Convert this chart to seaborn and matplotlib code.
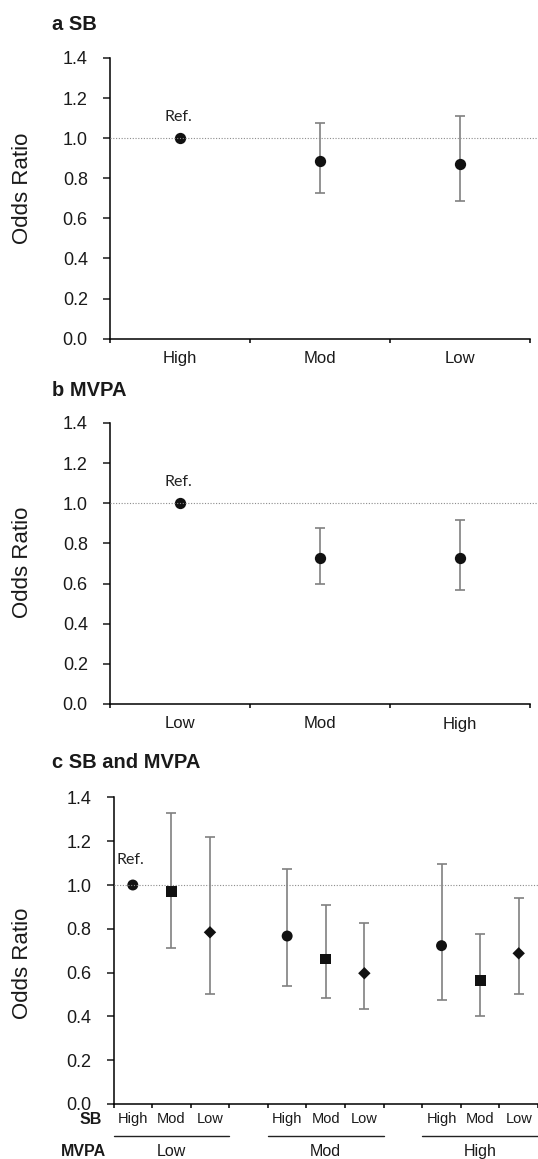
import numpy as np
import pandas as pd
import matplotlib
matplotlib.use('Agg')
import matplotlib.pyplot as plt
import matplotlib.transforms as mtransforms
import seaborn as sns

# a: sedentary behaviour tertiles
sb_levels = ['High', 'Mod', 'Low']
sb_or = [1.00, 0.888, 0.873]
sb_lo = [np.nan, 0.726, 0.687]
sb_hi = [np.nan, 1.078, 1.113]

# b: MVPA tertiles
mvpa_levels = ['Low', 'Mod', 'High']
mvpa_or = [1.00, 0.725, 0.726]
mvpa_lo = [np.nan, 0.598, 0.568]
mvpa_hi = [np.nan, 0.875, 0.917]

# c: joint SB x MVPA categories
joint_mvpa_levels = ['Low', 'Mod', 'High']
joint_mvpa = ['Low'] * 3 + ['Mod'] * 3 + ['High'] * 3
joint_sb = ['High', 'Mod', 'Low'] * 3
joint_or = [1.00, 0.970, 0.784, 0.767, 0.662, 0.597, 0.723, 0.562, 0.688]
joint_lo = [np.nan, 0.714, 0.504, 0.540, 0.482, 0.432, 0.475, 0.403, 0.504]
joint_hi = [np.nan, 1.327, 1.219, 1.075, 0.909, 0.828, 1.096, 0.778, 0.939]

sns.set_style('ticks')
plt.rcParams['font.family'] = ['Liberation Sans', 'DejaVu Sans']

W, H = 538, 1159
MARK = '#111111'
ERR = '#808080'
TXT = '#1a1a1a'

fig = plt.figure(figsize=(W / 100, H / 100), dpi=100)


def px_axes(left, right, top, bottom):
    return fig.add_axes([left / W, 1 - bottom / H, (right - left) / W, (bottom - top) / H])


def base_style(ax, left, right, label_y):
    ax.set_ylim(0, 1.4)
    yt = np.arange(0, 1.41, 0.2)
    ax.set_yticks(yt)
    ax.set_yticklabels([f'{v:.1f}' for v in yt])
    sns.despine(ax=ax)
    for s in ['left', 'bottom']:
        ax.spines[s].set_linewidth(1.1)
        ax.spines[s].set_color('black')
    ax.tick_params(axis='y', length=5, width=1.1, pad=11, labelsize=13,
                   colors=TXT, direction='out')
    ax.tick_params(axis='x', which='minor', length=3, width=1.1, direction='out',
                   color='black')
    ax.set_xlabel('')
    ax.set_ylabel('Odds Ratio', fontsize=16, color=TXT)
    # anchor is the right edge of the rotated label
    ax.yaxis.set_label_coords((33 - left) / (right - left), label_y)
    # dotted reference line, runs to the figure edge
    ax.axhline(1.0, xmin=0, xmax=(W - left) / (right - left), color='#8c8c8c',
               lw=0.8, ls=(0, (1, 1.5)), clip_on=False, zorder=4)


def draw_points(ax, pos, est, lo, hi, sb=None):
    est = np.asarray(est)
    lo = np.asarray(lo)
    hi = np.asarray(hi)
    m = ~np.isnan(lo)
    ax.errorbar(np.asarray(pos)[m], est[m], yerr=[est[m] - lo[m], hi[m] - est[m]],
                fmt='none', ecolor=ERR, elinewidth=1.2, capsize=3.7, capthick=1.2,
                zorder=2)
    if sb is None:
        sns.scatterplot(x=pos, y=est, marker='o', s=66, color=MARK, linewidth=0,
                        legend=False, ax=ax, zorder=3)
    else:
        df = pd.DataFrame({'pos': pos, 'or': est, 'sb': sb})
        sns.scatterplot(data=df, x='pos', y='or', style='sb', size='sb',
                        markers={'High': 'o', 'Mod': 's', 'Low': 'D'},
                        sizes={'High': 62, 'Mod': 62, 'Low': 40},
                        color=MARK, linewidth=0, legend=False, ax=ax, zorder=3)


def ref_label(ax, dy):
    ax.annotate('Ref.', xy=(0, 1.0), xytext=(-1.5, dy), textcoords='offset points',
                ha='center', va='center', fontsize=11.5, color='#222222',
                family=['Lato', 'DejaVu Sans'])


def simple_panel(top, bottom, levels, est, lo, hi, title, title_base, label_y):
    left, right = 110, 530
    ax = px_axes(left, right, top, bottom)
    pos = np.arange(len(levels))
    draw_points(ax, pos, est, lo, hi)
    ax.set_xlim(-0.5, len(levels) - 0.5)
    ax.set_xticks(pos)
    ax.set_xticklabels(levels)
    ax.set_xticks(np.arange(len(levels) + 1) - 0.5, minor=True)
    ax.tick_params(axis='x', which='major', length=0, pad=9, labelsize=12,
                   colors=TXT)
    base_style(ax, left, right, label_y)
    ref_label(ax, 15)
    fig.text(52 / W, 1 - title_base / H, title, ha='left', va='baseline',
             fontsize=14.5, fontweight='bold', color=TXT)
    return ax


simple_panel(58, 338.7, sb_levels, sb_or, sb_lo, sb_hi, 'a SB', 30, 0.537)
simple_panel(423, 704, mvpa_levels, mvpa_or, mvpa_lo, mvpa_hi, 'b MVPA', 396, 0.505)

# c: joint panel, groups of three with an empty slot between
left, right = 113.5, 538
ax = px_axes(left, right, 797.4, 1104)
grp = np.array([joint_mvpa_levels.index(g) for g in joint_mvpa])
sub = np.array([['High', 'Mod', 'Low'].index(s) for s in joint_sb])
pos = 4 * grp + sub
draw_points(ax, pos, joint_or, joint_lo, joint_hi, sb=joint_sb)
ax.set_xlim(-0.5, 10.5)
ax.set_xticks(pos)
ax.set_xticklabels(joint_sb)
ax.set_xticks(np.arange(12) - 0.5, minor=True)
ax.tick_params(axis='x', which='major', length=0, pad=6, labelsize=10.5, colors=TXT)
base_style(ax, left, right, 0.458)
ref_label(ax, 18)

trans = mtransforms.blended_transform_factory(ax.transData, ax.transAxes)
for g, name in enumerate(joint_mvpa_levels):
    ax.plot([4 * g - 0.5, 4 * g + 2.5], [-0.103, -0.103], transform=trans,
            color='#222222', lw=1.0, clip_on=False)
    ax.text(4 * g + 1, -0.155, name, transform=trans, ha='center', va='center',
            fontsize=11.5, color=TXT)

fig.text(101.5 / W, 1 - 1119.5 / H, 'SB', ha='right', va='center',
         fontsize=11.5, fontweight='bold', color=TXT)
fig.text(106 / W, 1 - 1151.5 / H, 'MVPA', ha='right', va='center',
         fontsize=11.5, fontweight='bold', color=TXT)
fig.text(52 / W, 1 - 768 / H, 'c SB and MVPA', ha='left', va='baseline',
         fontsize=14.5, fontweight='bold', color=TXT)

fig.savefig('out.png', dpi=100)
